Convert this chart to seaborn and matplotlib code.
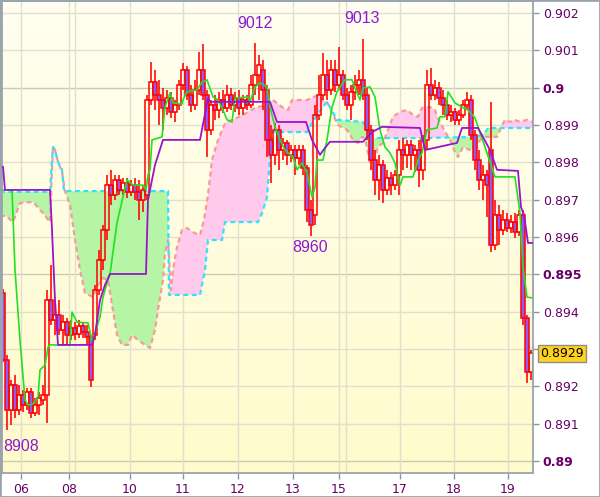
import numpy as np
import pandas as pd
import matplotlib
matplotlib.use("Agg")
import matplotlib.pyplot as plt
import seaborn as sns
from matplotlib.patches import Polygon, Rectangle

# ---------------- data (prices in pips, 1 pip = 0.0001) ----------------
opens = [8945.0, 8927.1, 8913.7, 8920.4, 8913.7, 8917.7, 8915.0, 8918.5, 8912.9, 8915.0,
         8916.3, 8917.7, 8943.1, 8937.8, 8939.1, 8935.1, 8937.2, 8933.8, 8935.6, 8934.0,
         8936.2, 8934.6, 8933.2, 8933.8, 8945.8, 8953.9, 8961.9, 8973.9, 8971.3, 8975.3,
         8972.6, 8974.5, 8972.1, 8973.9, 8972.1, 8969.9, 8971.3, 8996.7, 9001.5, 8998.0,
         8996.7, 8994.6, 8997.2, 8993.5, 8995.4, 9000.7, 9004.7, 8998.0, 8995.4, 8999.4,
         9004.7, 8998.0, 8988.7, 8995.4, 8994.0, 8996.7, 8994.6, 8998.0, 8995.4, 8997.2,
         8994.6, 8996.7, 8995.4, 9000.7, 9003.4, 9004.7, 8999.4, 8986.0, 8982.0, 8988.7,
         8983.3, 8985.2, 8982.0, 8983.3, 8981.2, 8983.3, 8978.5, 8967.2, 8965.9, 8992.7,
         8998.0, 9003.4, 8999.4, 9004.7, 9000.7, 9003.4, 8998.0, 8995.4, 8998.9, 9000.7,
         9002.1, 8998.0, 8988.7, 8980.6, 8975.3, 8979.3, 8972.6, 8975.8, 8973.9, 8976.6,
         8983.3, 8982.0, 8984.7, 8982.0, 8983.3, 8978.0, 8986.0, 9000.7, 8998.0, 8999.9,
         8997.2, 8995.4, 8992.7, 8993.5, 8991.4, 8992.7, 8995.4, 8996.7, 8987.3, 8980.6,
         8975.3, 8976.6, 8983.3, 8957.9, 8965.9, 8961.9, 8964.6, 8962.4, 8964.0, 8961.4,
         8965.9, 8938.3, 8923.8]
highs = [8946.1, 8928.4, 8921.7, 8923.0, 8920.4, 8919.0, 8919.6, 8919.6, 8916.9, 8918.5,
         8920.4, 8945.8, 8952.5, 8943.1, 8943.1, 8939.1, 8938.3, 8937.8, 8937.2, 8937.8,
         8937.2, 8936.4, 8933.8, 8947.2, 8956.5, 8963.2, 8976.6, 8978.0, 8976.6, 8976.6,
         8975.8, 8975.8, 8975.3, 8975.8, 8975.3, 8973.9, 8998.0, 9006.9, 9004.7, 9002.1,
         8999.9, 8999.4, 8998.9, 8996.7, 9002.1, 9006.6, 9005.8, 9000.7, 9002.1, 9009.6,
         9011.7, 8999.4, 8996.7, 8998.0, 8998.9, 8999.4, 9000.7, 8999.9, 8998.9, 8999.4,
         8998.0, 8998.0, 9003.4, 9012.0, 9008.8, 9007.4, 9000.7, 8990.0, 8990.5, 8990.0,
         8986.5, 8986.0, 8984.7, 8984.7, 8984.7, 8984.7, 8979.3, 8969.9, 8995.4, 9003.4,
         9009.3, 9007.4, 9007.4, 9007.4, 9010.9, 9004.7, 8999.9, 9000.7, 9003.4, 9004.7,
         9013.0, 8999.9, 8990.0, 8983.3, 8982.0, 8980.6, 8978.0, 8977.4, 8978.0, 8986.0,
         8986.5, 8986.0, 8986.0, 8984.7, 8986.0, 8987.3, 9004.7, 9005.3, 9002.1, 9001.5,
         8999.4, 8996.7, 8995.4, 8994.6, 8994.0, 8996.7, 8998.9, 8998.0, 8988.7, 8983.3,
         8979.3, 8978.0, 8996.2, 8969.9, 8968.6, 8967.2, 8966.4, 8965.9, 8966.4, 8967.2,
         8967.2, 8939.1, 8929.7]
lows = [8926.5, 8908.3, 8909.6, 8911.5, 8912.3, 8913.1, 8913.7, 8911.5, 8912.1, 8912.3,
        8915.0, 8910.2, 8936.4, 8933.8, 8933.8, 8931.1, 8931.1, 8932.4, 8932.4, 8933.0,
        8933.0, 8931.1, 8919.8, 8932.4, 8944.5, 8951.2, 8959.2, 8968.6, 8969.9, 8971.3,
        8971.3, 8970.5, 8971.0, 8969.9, 8964.6, 8966.7, 8969.9, 8995.4, 8994.0, 8990.0,
        8988.7, 8992.7, 8991.9, 8990.8, 8994.0, 8999.4, 8996.7, 8993.5, 8994.0, 8998.0,
        8996.7, 8981.4, 8987.3, 8991.4, 8991.9, 8993.2, 8993.5, 8994.0, 8993.5, 8992.7,
        8992.7, 8994.0, 8994.6, 8998.0, 8996.7, 8994.0, 8981.4, 8974.5, 8979.3, 8978.0,
        8980.6, 8979.3, 8980.1, 8976.6, 8979.3, 8976.6, 8964.0, 8960.3, 8963.2, 8991.4,
        8996.7, 8996.7, 8998.0, 8998.9, 8999.4, 8996.7, 8994.0, 8991.4, 8996.7, 8998.0,
        8996.7, 8986.0, 8978.0, 8971.3, 8969.9, 8969.1, 8971.3, 8971.3, 8972.6, 8971.3,
        8978.0, 8978.5, 8978.0, 8977.4, 8973.4, 8975.3, 8983.3, 8996.7, 8996.7, 8995.4,
        8992.7, 8991.4, 8990.8, 8990.0, 8990.0, 8991.9, 8994.0, 8986.0, 8978.0, 8972.6,
        8969.9, 8965.4, 8956.0, 8956.5, 8957.9, 8960.5, 8961.4, 8961.1, 8959.7, 8960.3,
        8936.4, 8920.9, 8921.7]
closes = [8927.1, 8913.7, 8920.4, 8913.7, 8917.7, 8915.0, 8918.5, 8912.9, 8915.0, 8916.9,
          8917.7, 8943.1, 8937.8, 8939.1, 8935.1, 8937.2, 8933.8, 8935.6, 8934.0, 8936.2,
          8934.6, 8933.2, 8921.7, 8945.8, 8953.9, 8961.9, 8973.9, 8971.3, 8975.3, 8972.6,
          8974.5, 8972.1, 8973.9, 8972.1, 8969.9, 8972.6, 8996.7, 9001.5, 8998.0, 8996.7,
          8994.6, 8997.2, 8993.5, 8995.4, 9000.7, 9004.7, 8998.0, 8995.4, 8999.4, 9004.7,
          8998.0, 8988.7, 8995.4, 8994.0, 8996.7, 8994.6, 8998.0, 8995.4, 8997.2, 8994.6,
          8996.7, 8995.4, 9000.7, 9003.4, 9006.1, 8999.4, 8986.0, 8982.0, 8988.7, 8983.3,
          8985.2, 8982.0, 8983.3, 8981.2, 8983.3, 8978.5, 8967.2, 8963.2, 8992.7, 8998.0,
          9003.4, 8999.4, 9004.7, 9000.7, 9003.4, 8998.0, 8995.4, 8998.9, 9000.7, 9002.1,
          8998.0, 8988.7, 8980.6, 8975.3, 8979.3, 8972.6, 8975.8, 8973.9, 8976.6, 8983.3,
          8982.0, 8984.7, 8982.0, 8983.3, 8978.0, 8986.0, 9000.7, 8998.0, 8999.9, 8997.2,
          8995.4, 8992.7, 8993.5, 8991.4, 8992.7, 8995.4, 8996.7, 8987.3, 8980.6, 8975.3,
          8976.6, 8973.9, 8957.9, 8965.9, 8961.9, 8964.6, 8962.4, 8964.0, 8961.4, 8965.9,
          8938.3, 8923.8, 8928.9]

# conversion line (green)
tenkan_x = [-0.75, 2.25, 3, 4.25, 5.5, 6.25, 7.5, 8.75, 9.25, 10.5, 11.25, 11.75, 16.75, 17.25,
            18.5, 21.25, 21.75, 22.25, 23.25, 24.25, 25, 26, 26.75, 28.5, 30, 31, 32.5, 35,
            35.75, 36.25, 36.75, 37.25, 39.75, 40.5, 41.75, 42.5, 44.75, 45, 46, 48.5, 49.75,
            51, 52.5, 53.75, 55, 56, 57.25, 58, 61.25, 61.75, 63, 64.25, 66, 66.75, 68, 69.25,
            70.5, 72.5, 73.5, 74.75, 76, 77.25, 78, 78.5, 80, 81, 82.25, 83.5, 85.5, 87.25, 88,
            89.25, 90, 91.75, 93, 94.25, 95.5, 96.75, 98, 99.25, 100, 102.5, 103.75, 104.75,
            106, 108.5, 109.25, 110.5, 111.25, 113, 114.75, 116.25, 118, 120.5, 123, 128,
            129.25, 130, 131, 132.25]
tenkan_v = [8972.6, 8972.6, 8951.2, 8932.4, 8916.3, 8915.0, 8915.3, 8917.1, 8924.4, 8925.7,
            8930.5, 8931.1, 8931.1, 8939.9, 8937.2, 8937.0, 8934.6, 8931.9, 8935.1, 8938.6,
            8943.9, 8947.7, 8950.1, 8963.8, 8970.7, 8975.3, 8973.9, 8973.9, 8972.6, 8976.6,
            8978.0, 8986.0, 8986.8, 8994.8, 8998.6, 8995.9, 8995.6, 8996.7, 8998.9, 8999.4,
            9001.5, 9002.1, 8997.5, 8996.7, 8994.0, 8991.4, 8990.8, 8997.2, 8997.5, 8996.2,
            9000.2, 9001.3, 9000.2, 8994.8, 8989.5, 8986.0, 8983.3, 8981.4, 8978.0, 8979.8,
            8977.2, 8970.7, 8973.4, 8980.6, 8980.6, 8986.0, 8994.8, 8998.9, 9002.1, 9002.1,
            8999.9, 8996.7, 8999.9, 9000.2, 8997.5, 8988.7, 8984.1, 8982.5, 8979.8, 8973.9,
            8976.1, 8976.1, 8980.6, 8982.5, 8988.7, 8989.2, 8992.2, 8992.2, 8998.9, 8995.9,
            8994.8, 8994.0, 8991.9, 8984.1, 8976.1, 8976.1, 8966.4, 8952.0, 8943.9, 8943.7]

# base line (purple)
kijun_x = [-0.75, 0, 0.5, 11.75, 12.25, 13, 13.75, 22.25, 23, 24.25, 25.5, 26.75, 35.75, 36.25,
           38, 40, 49.25, 51.25, 51.75, 66.75, 68.5, 75.75, 77.25, 79.25, 80.5, 81.75, 90,
           92.25, 94.75, 104.25, 105.5, 113.5, 114.75, 118.75, 121.75, 123.5, 128.75, 129.5,
           130.25, 131.25, 132.5]
kijun_v = [8978.8, 8978.8, 8972.6, 8972.6, 8961.9, 8943.1, 8931.1, 8931.1, 8933.8, 8943.1,
           8947.2, 8950.1, 8950.1, 8969.9, 8979.3, 8986.0, 8986.0, 8997.2, 8996.2, 8996.2,
           8990.8, 8990.8, 8986.0, 8982.0, 8983.9, 8985.5, 8985.5, 8988.1, 8989.5, 8989.2,
           8983.3, 8985.2, 8989.2, 8989.2, 8983.3, 8978.0, 8977.7, 8968.0, 8965.9, 8958.4,
           8958.4]

# leading span drawn in salmon
spanA_x = [-0.75, 1, 2.5, 4.25, 7.5, 10, 11.75, 12.25, 12.5, 13, 13.75, 14.75, 15.5, 16.75, 18,
           19.25, 20.5, 22.5, 23.75, 25, 26.25, 27.25, 28.5, 29.75, 31.25, 32.25, 33.75, 35.5,
           36.75, 38, 38.75, 40, 40.5, 41.25, 42, 42.5, 43.5, 44.75, 46, 47.5, 49.25, 50.25,
           51.25, 52.25, 53.5, 54.75, 55.75, 57.5, 60, 63, 66, 67.5, 69.75, 71.25, 72.25, 76,
           78.75, 79.75, 81, 82.25, 83.75, 86, 87.5, 88.75, 89.75, 90.5, 91.75, 93, 93.75, 95,
           96.25, 97.5, 99.25, 101, 102.5, 103.75, 104.75, 106.75, 108, 108.5, 111.25, 111.75,
           113, 113.75, 115, 116.75, 118.5, 119.25, 120.5, 123.5, 124.25, 125.5, 126.75, 128,
           129.25, 131, 132.5]
spanA_v = [8965.9, 8965.4, 8964.0, 8969.1, 8969.4, 8966.4, 8964.0, 8978.0, 8984.1, 8983.3,
           8980.1, 8977.4, 8972.3, 8968.6, 8959.2, 8951.2, 8945.0, 8943.9, 8947.2, 8949.0,
           8948.5, 8941.8, 8933.8, 8931.1, 8931.1, 8933.8, 8932.4, 8931.1, 8930.3, 8935.1,
           8940.5, 8948.5, 8955.7, 8959.2, 8945.8, 8951.2, 8957.3, 8961.9, 8962.4, 8961.3,
           8960.5, 8964.6, 8971.3, 8980.6, 8985.2, 8988.7, 8990.8, 8991.4, 8992.7, 8994.6,
           8995.4, 8996.7, 8994.8, 8994.0, 8996.7, 8996.7, 8998.0, 8996.7, 8996.2, 8993.2,
           8990.0, 8988.7, 8986.0, 8985.2, 8986.8, 8986.5, 8979.8, 8981.4, 8984.1, 8985.2,
           8988.7, 8992.2, 8993.5, 8994.0, 8992.7, 8992.2, 8994.6, 8994.8, 8994.0, 8992.2,
           8986.8, 8986.0, 8982.8, 8981.4, 8984.1, 8983.3, 8984.1, 8986.0, 8986.8, 8986.8,
           8988.7, 8991.4, 8990.8, 8991.4, 8990.8, 8991.4, 8990.8]

# leading span drawn in cyan
spanB_x = [-0.75, 11.75, 12.25, 12.5, 13, 13.75, 14.75, 15.25, 41.25, 41.5, 49.25, 50.5, 51.25,
           54.75, 55.5, 63.75, 64.75, 66, 67.25, 76, 78.5, 81, 83.5, 90, 91, 91.75, 104.25,
           118.5, 120.5, 121.25, 132.5]
spanB_v = [8972.1, 8972.1, 8980.6, 8984.1, 8983.3, 8980.1, 8978.0, 8972.3, 8972.3, 8944.5,
           8944.5, 8951.2, 8959.2, 8959.2, 8964.0, 8964.0, 8966.4, 8970.7, 8988.1, 8988.1,
           8992.7, 8996.2, 8991.4, 8990.8, 8988.7, 8986.5, 8986.5, 8986.8, 8987.9, 8989.2,
           8989.2]

day_ticks = [4.5, 16.5, 31.75, 45, 58.75, 72.5, 84, 99.25, 112.75, 126.25]
day_labels = ['06', '08', '10', '11', '12', '13', '15', '17', '18', '19']
extra_grid = [18, 85.75]

price_ticks = [0.890, 0.891, 0.892, 0.893, 0.894, 0.895, 0.896, 0.897, 0.898, 0.899, 0.900, 0.901, 0.902]
price_labels = ['0.89', '0.891', '0.892', '', '0.894', '0.895', '0.896', '0.897', '0.898', '0.899', '0.9', '0.901', '0.902']
bold_labels = ['0.89', '0.895', '0.9']

extreme_labels = ['9012', '9013', '8960', '8908']
extreme_x = [63, 89.75, 76.75, 4.5]
extreme_v = [9017.1, 9018.4, 8957.1, 8903.9]

last_price = '0.8929'

# ---------------- figure ----------------
sns.set_style("white")
plt.rcParams['font.family'] = ['DejaVu Sans']

W, H = 600, 497
fig = plt.figure(figsize=(6.0, 4.97), dpi=100)
fig.patch.set_facecolor('white')
ax = fig.add_axes([2 / W, 1 - 473 / H, 531 / W, 472 / H])

P = 1e4
df = pd.DataFrame({'o': np.array(opens) / P, 'h': np.array(highs) / P,
                   'l': np.array(lows) / P, 'c': np.array(closes) / P})
df['t'] = np.arange(len(df))

# background gradient
grad = np.linspace(0, 1, 256).reshape(-1, 1)
top = np.array([1.0, 1.0, 0.945])
bot = np.array([1.0, 0.985, 0.80])
img = top[None, None, :] * (1 - grad[:, :, None]) + bot[None, None, :] * grad[:, :, None]
ax.imshow(img, extent=[0, 1, 0, 1], transform=ax.transAxes, aspect='auto', zorder=0)

# grid
for v in price_ticks:
    strong = f"{v:.3f}".rstrip('0').rstrip('.') in bold_labels
    ax.axhline(v, color='#cbcbb0' if strong else '#e0e0cc', lw=1.0, zorder=0.5)
for v in day_ticks + extra_grid:
    ax.axvline(v, color='#e0e0cc', lw=1.0, zorder=0.5)

# cloud fill
xa = np.array(spanA_x); ya = np.array(spanA_v) / P
xb = np.array(spanB_x); yb = np.array(spanB_v) / P
between = np.column_stack([np.r_[xa, xb[::-1]], np.r_[ya, yb[::-1]]])
below_b = np.column_stack([np.r_[xb, xb[-1], xb[0]], np.r_[yb, 0.8, 0.8]])
above_b = np.column_stack([np.r_[xb, xb[-1], xb[0]], np.r_[yb, 1.0, 1.0]])
gpoly = Polygon(between, closed=True, fc='#b5f5a5', ec='none', zorder=1)
ax.add_patch(gpoly)
gpoly.set_clip_path(Polygon(below_b, closed=True, transform=ax.transData))
ppoly = Polygon(between, closed=True, fc='#ffcaec', ec='none', zorder=1)
ax.add_patch(ppoly)
ppoly.set_clip_path(Polygon(above_b, closed=True, transform=ax.transData))

sns.lineplot(x=xa, y=ya, ax=ax, color='#f79a9a', lw=1.6, linestyle=(0, (2.2, 1.6)),
             sort=False, estimator=None, zorder=1.5)
sns.lineplot(x=xb, y=yb, ax=ax, color='#2fe2ff', lw=1.6, linestyle=(0, (2.2, 1.6)),
             sort=False, estimator=None, zorder=1.5)

# candles
up = df['c'] >= df['o']
body_lo = np.minimum(df['o'], df['c'])
body_hi = np.maximum(df['o'], df['c'])
ax.vlines(df['t'], df['l'], body_lo, color='#ff0000', lw=1.15, zorder=2)
ax.vlines(df['t'], body_hi, df['h'], color='#ff0000', lw=1.15, zorder=2)
faces = ['none' if u else '#9658ee' for u in up]
ax.bar(df['t'], body_hi - body_lo, bottom=body_lo, width=0.85, color=faces,
       edgecolor='#ff0000', linewidth=1.1, zorder=2.5)

# indicator lines
sns.lineplot(x=tenkan_x, y=np.array(tenkan_v) / P, ax=ax, color='#22e022', lw=1.2,
             sort=False, estimator=None, zorder=3)
sns.lineplot(x=kijun_x, y=np.array(kijun_v) / P, ax=ax, color='#9a14cc', lw=1.3,
             sort=False, estimator=None, zorder=3.2)

# extreme labels
for lab, xx, vv in zip(extreme_labels, extreme_x, extreme_v):
    ax.text(xx, vv / P, lab, ha='center', va='center', fontsize=11.5,
            family=['Liberation Sans', 'DejaVu Sans'], color='#8a1ad2', zorder=5)

ax.set_xlim(-0.25, 132.5)
ax.set_ylim(0.88968, 0.90232)

# axes styling
ax.yaxis.tick_right()
ax.set_yticks(price_ticks)
ax.set_yticklabels(price_labels)
for t in ax.get_yticklabels():
    if t.get_text() in bold_labels:
        t.set_fontweight('bold')
ax.set_xticks(day_ticks)
ax.set_xticklabels(day_labels)
ax.tick_params(axis='y', right=True, left=False, length=4, width=1, color='#8a96a2',
               labelsize=9, labelcolor='#660066', pad=3)
ax.tick_params(axis='x', bottom=True, length=4, width=1, color='#8a96a2',
               labelsize=9, labelcolor='#660066', pad=3)
for s in ax.spines.values():
    s.set_color('#9aa4ad')
    s.set_linewidth(1.3)
ax.set_xlabel('')
ax.set_ylabel('')

# last price tag
fig.text(562 / W, 1 - 353.5 / H, last_price, ha='center', va='center', fontsize=9,
         color='black', bbox=dict(boxstyle='square,pad=0.18', fc='#ffd21e', ec='#8c8c8c', lw=1))

# outer frame
fig.patches.append(Rectangle((0, 0), 1, 1, transform=fig.transFigure, fill=False,
                             ec='#9aa4ad', lw=2.0))

fig.savefig('out.png', dpi=100)
